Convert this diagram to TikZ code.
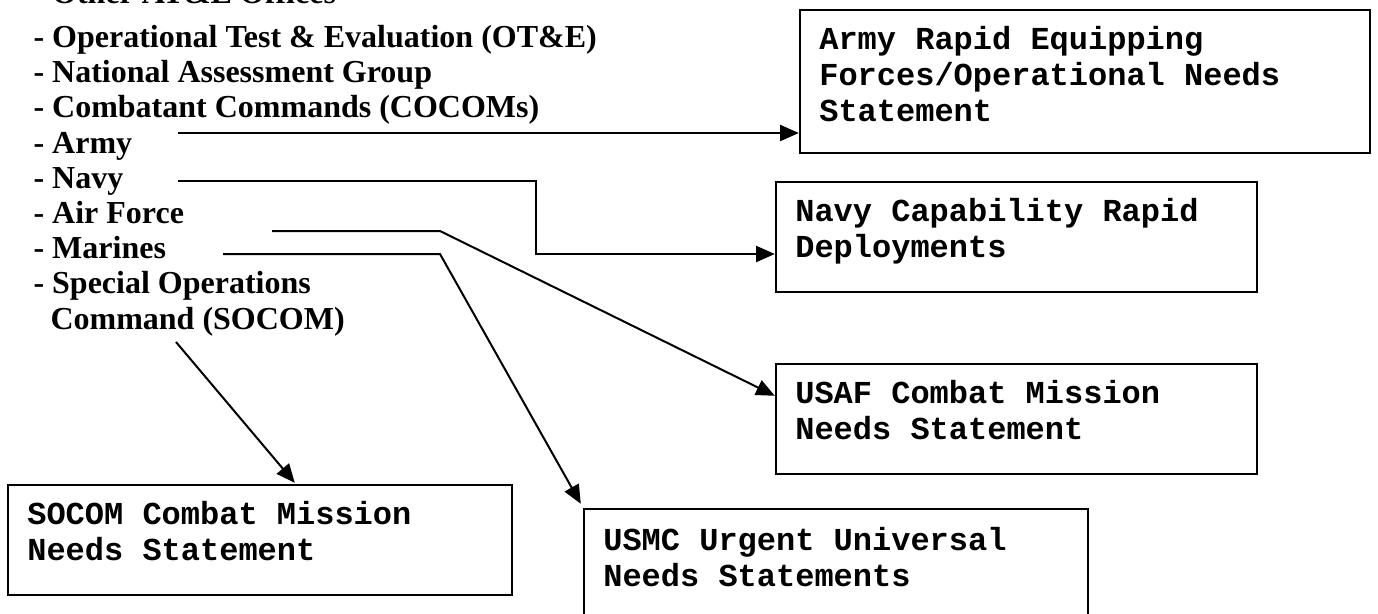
\documentclass[tikz,border=0pt]{standalone}
\usepackage{fontspec}
\setmainfont{Liberation Serif}
\newfontfamily\monofont{Liberation Mono}
\usetikzlibrary{arrows.meta,fit}

\tikzset{
  listitem/.style={anchor=base west, inner sep=0, font=\fontsize{12}{13.6}\selectfont\bfseries},
  needsbox/.style={draw, line width=0.9pt, inner sep=0},
  needstext/.style={anchor=north west, inner sep=0, align=left,
    font=\fontsize{12}{13.5}\selectfont\monofont\bfseries, execute at begin node=\strut},
  feed/.style={line width=0.75pt, -{Triangle[length=7pt,width=6pt]}}
}

\begin{document}
\begin{tikzpicture}[x=0.375pt, y=-0.375pt]
\useasboundingbox (0,0) rectangle (1378,614);
\fill[white] (0,0) rectangle (1378,614);

\node[listitem] (item0) at (33,4) {- Other AT\&L Offices};
\foreach \txt [count=\i] in {- Operational Test \& Evaluation (OT\&E),
    - National Assessment Group, - Combatant Commands (COCOMs), - Army, - Navy,
    - Air Force, - Marines, - Special Operations}
  \node[listitem] (item\i) at (33,{47.5+35.2*(\i-1)}) {\txt};
\node[listitem] (item9) at (50,329) {Command (SOCOM)};

\node[needsbox, fit={(800,10) (1370,153)}] (armybox) {};
\node[needsbox, fit={(776,182) (1257,292)}] (navybox) {};
\node[needsbox, fit={(776,364) (1257,474)}] (usafbox) {};
\node[needsbox, fit={(8,485) (512,595)}] (socombox) {};
\node[needsbox, fit={(584,509) (1088,640)}] (usmcbox) {};

\node[needstext] (armytext) at ([shift={(20,17)}]armybox.north west)
  {Army Rapid Equipping\\Forces/Operational Needs\\Statement};
\node[needstext] (navytext) at ([shift={(20,17)}]navybox.north west)
  {Navy Capability Rapid\\Deployments};
\node[needstext] (usaftext) at ([shift={(20,17)}]usafbox.north west)
  {USAF Combat Mission\\Needs Statement};
\node[needstext] (socomtext) at ([shift={(20,17)}]socombox.north west)
  {SOCOM Combat Mission\\Needs Statement};
\node[needstext] (usmctext) at ([shift={(20,19)}]usmcbox.north west)
  {USMC Urgent Universal\\Needs Statements};

\coordinate (armyfrom) at (178,133);
\coordinate (navyfrom) at (178,181);
\coordinate (navybend) at (536,254);
\coordinate (airfrom) at (272,231);
\coordinate (airbend) at (440,231);
\coordinate (marinesfrom) at (223,254);
\coordinate (marinesbend) at (440,254);
\coordinate (socomfrom) at (176,342);

\draw[feed] (armyfrom) -- (armyfrom -| armybox.west);
\draw[feed] (navyfrom) -| (navybend) -- (navybend -| navybox.west);
\draw[feed] (airfrom) -- (airbend) -- ([shift={(0,33)}]usafbox.north west);
\draw[feed] (marinesfrom) -- (marinesbend) -- ([shift={(-2,-4)}]usmcbox.north west);
\draw[feed] (socomfrom) -- ([shift={(288,-1)}]socombox.north west);
\end{tikzpicture}
\end{document}
